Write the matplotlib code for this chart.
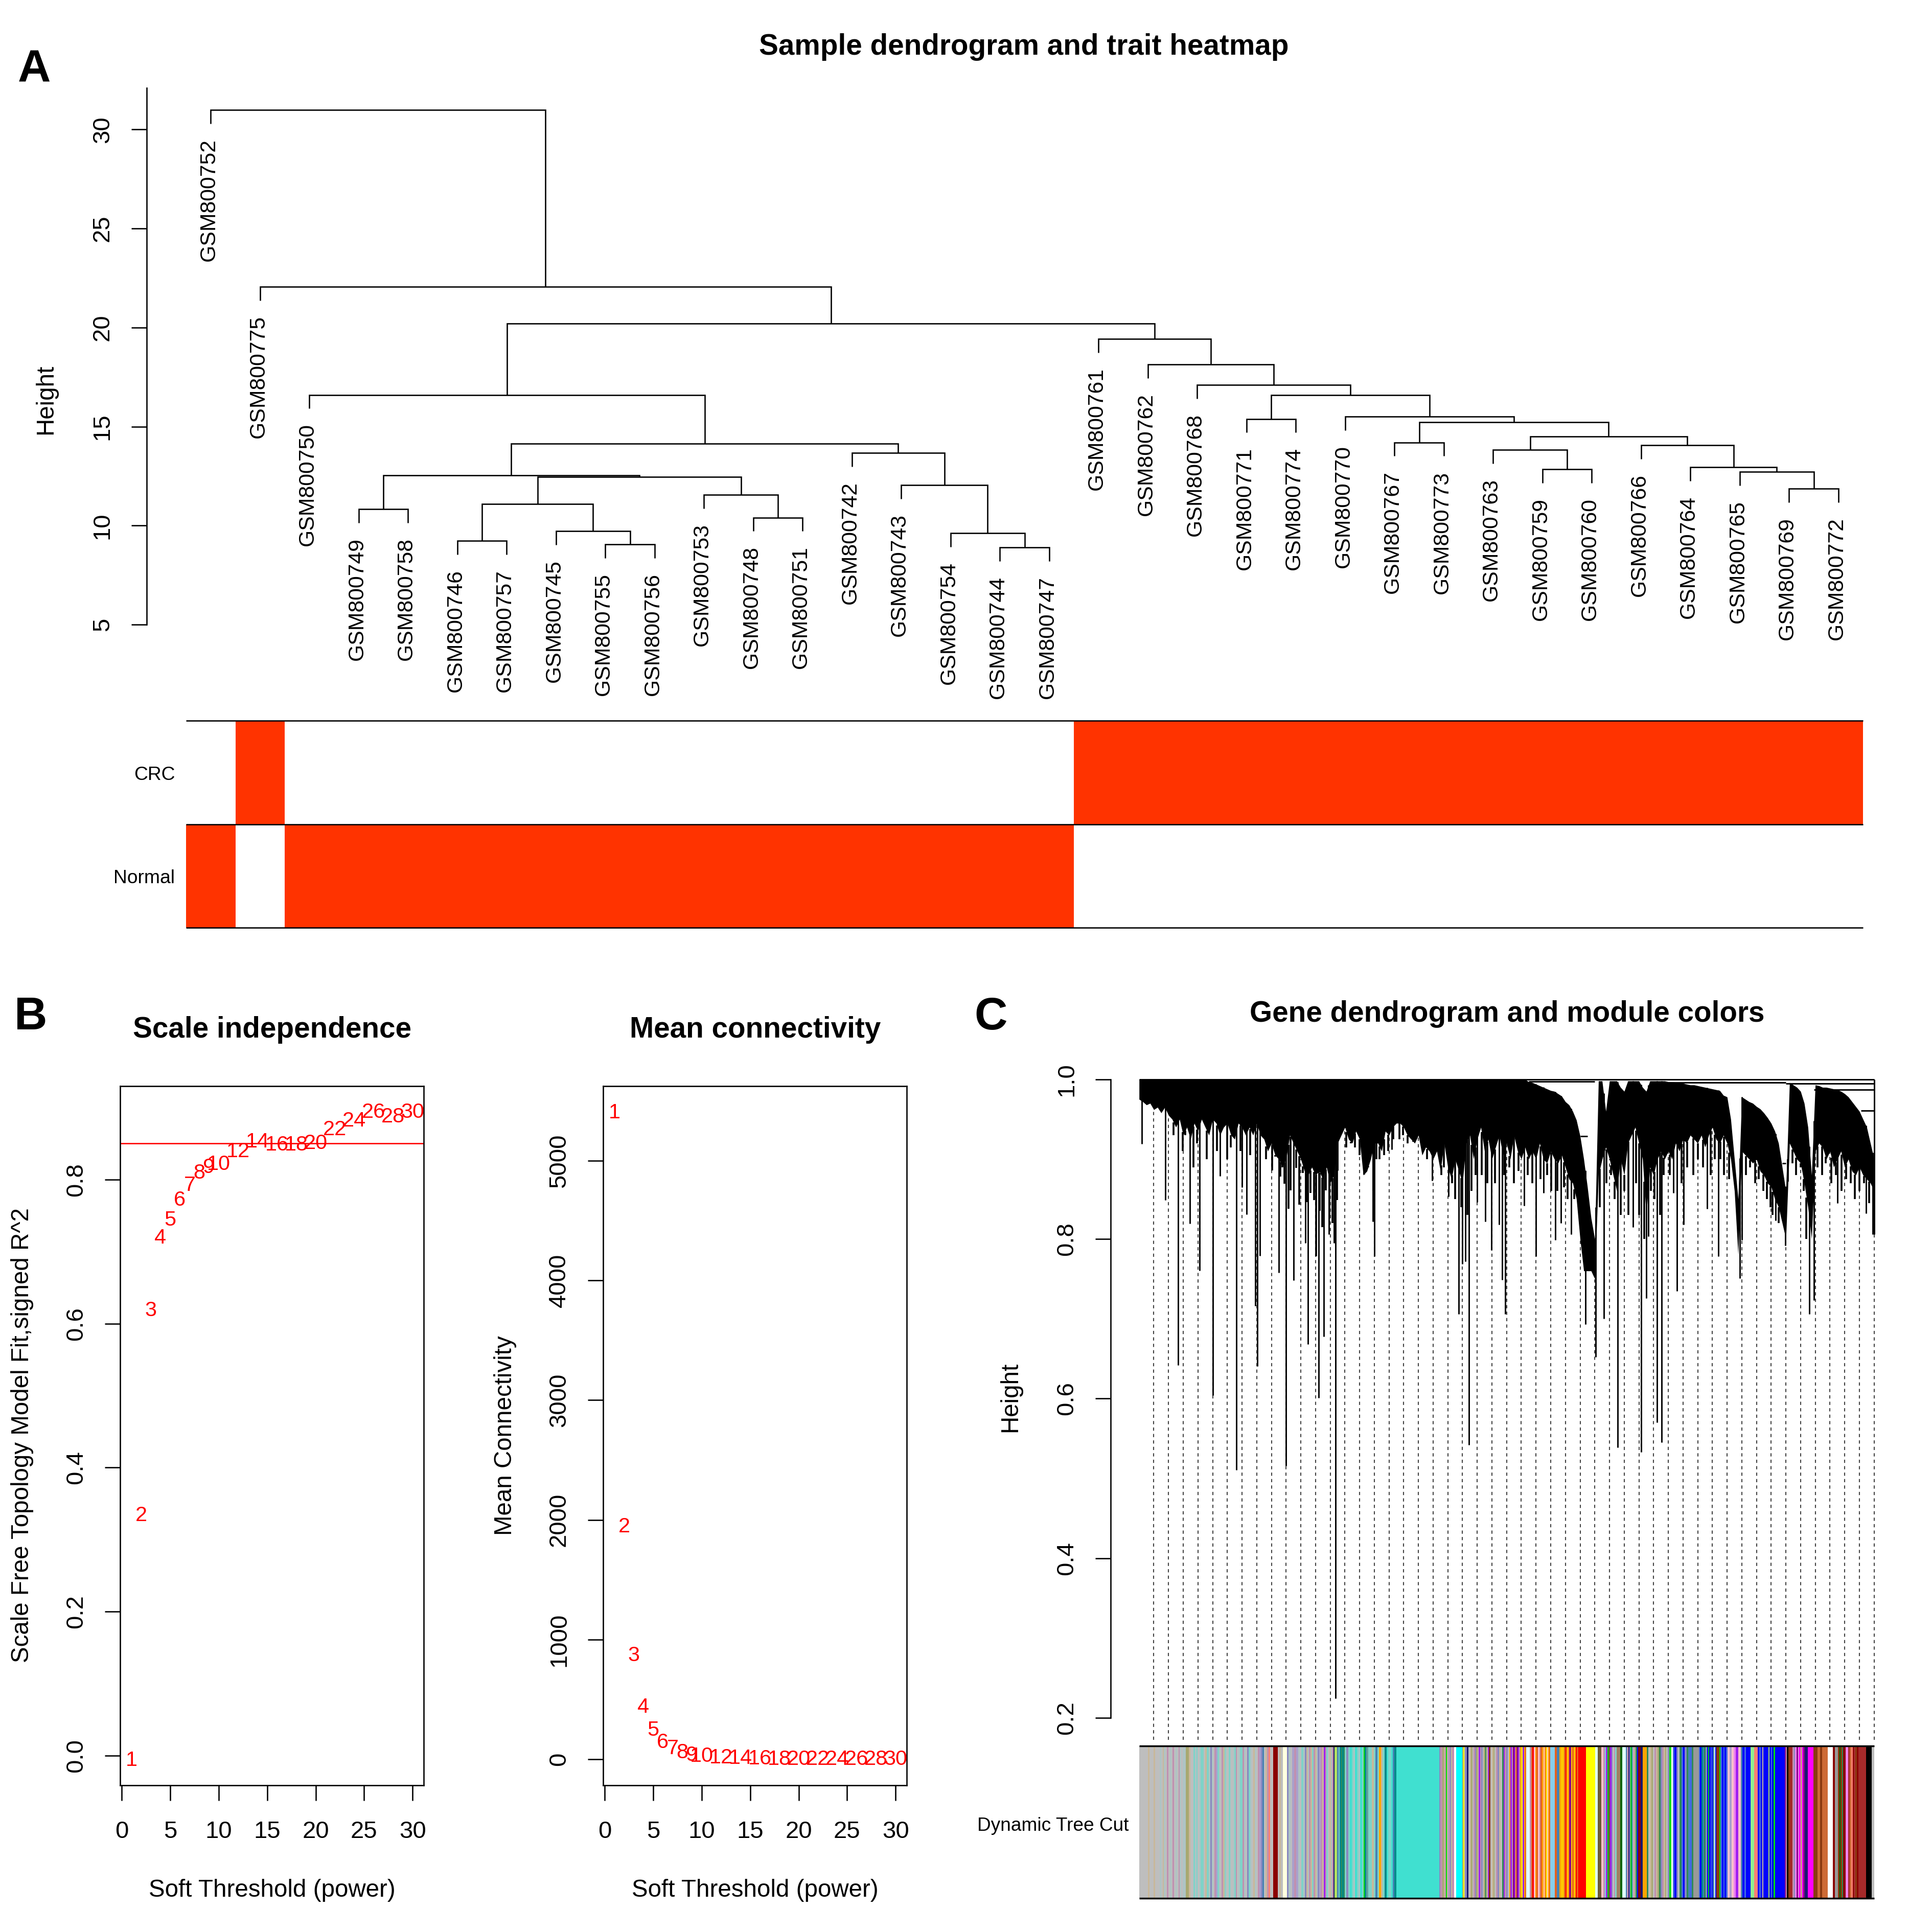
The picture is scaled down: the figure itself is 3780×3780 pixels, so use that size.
import numpy as np
import matplotlib
matplotlib.use('Agg')
import matplotlib.pyplot as plt
from matplotlib.colors import ListedColormap

plt.rcParams['font.family'] = ['Liberation Sans', 'DejaVu Sans']
plt.rcParams['ytick.alignment'] = 'center'

# Panel A: sample tree, hclust style merges (negative = leaf position, positive = earlier merge)
sample_labels = ['GSM800752', 'GSM800775', 'GSM800750', 'GSM800749', 'GSM800758', 'GSM800746',
                 'GSM800757', 'GSM800745', 'GSM800755', 'GSM800756', 'GSM800753', 'GSM800748',
                 'GSM800751', 'GSM800742', 'GSM800743', 'GSM800754', 'GSM800744', 'GSM800747',
                 'GSM800761', 'GSM800762', 'GSM800768', 'GSM800771', 'GSM800774', 'GSM800770',
                 'GSM800767', 'GSM800773', 'GSM800763', 'GSM800759', 'GSM800760', 'GSM800766',
                 'GSM800764', 'GSM800765', 'GSM800769', 'GSM800772']
merge_left = [-4, -6, -9, -8, 2, -12, -11, 5, 1, -17, -16, -15, -14, 9, -3,
              -33, -32, -31, -30, -28, -27, 21, -25, 23, -24, -22, 26, -21, -20, -19, 15, -2, -1]
merge_right = [-5, -7, -10, 3, 4, -13, 6, 7, 8, -18, 10, 11, 12, 13, 14,
               -34, 16, 17, 18, -29, 20, 19, -26, 22, 24, -23, 25, 27, 28, 29, 30, 31, 32]
merge_height = [10.84, 9.24, 9.05, 9.72, 11.1, 10.41, 11.55, 12.46, 12.53, 8.9, 9.62, 12.05, 13.67, 14.13, 16.6,
                11.87, 12.72, 12.94, 14.05, 12.84, 13.82, 14.5, 14.2, 15.21, 15.5, 15.39, 16.6, 17.1, 18.14,
                19.42, 20.2, 22.06, 30.98]
trait_crc = [0, 1, 0, 0, 0, 0, 0, 0, 0, 0, 0, 0, 0, 0, 0, 0, 0, 0,
             1, 1, 1, 1, 1, 1, 1, 1, 1, 1, 1, 1, 1, 1, 1, 1]
trait_normal = [1, 0, 1, 1, 1, 1, 1, 1, 1, 1, 1, 1, 1, 1, 1, 1, 1, 1,
                0, 0, 0, 0, 0, 0, 0, 0, 0, 0, 0, 0, 0, 0, 0, 0]

# Panel B: soft threshold curves
powers = [1, 2, 3, 4, 5, 6, 7, 8, 9, 10, 12, 14, 16, 18, 20, 22, 24, 26, 28, 30]
fit_r2 = [-0.006, 0.334, 0.618, 0.719, 0.744, 0.771, 0.792, 0.809, 0.817, 0.821,
          0.839, 0.852, 0.848, 0.848, 0.85, 0.869, 0.881, 0.893, 0.887, 0.893]
mean_conn = [5400, 1944, 868, 438, 243, 144, 90, 58, 36, 27,
             14, 8, 5, 3, 2, 1, 1, 0.5, 0.4, 0.3]
r2_cutoff = 0.85

# Panel C: gene tree read as envelope per 0.5 % of width, plus the long single branches
mass_low = [.975, .972, .968, .97, .962, .965, .958, .965, .955, .95,
            .94, .95, .93, .94, .925, .945, .935, .95, .94, .93,
            .95, .945, .93, .94, .945, .93, .925, .945, .94, .93,
            .94, .93, .945, .93, .925, .91, .92, .905, .90, .89,
            .90, .93, .92, .91, .90, .885, .88, .89, .88, .885,
            .875, .89, .87, .88, .92, .93, .94, .925, .92, .935,
            .925, .88, .885, .90, .92, .92, .91, .935, .93, .94,
            .945, .945, .94, .93, .925, .92, .93, .905, .915, .91,
            .90, .91, .885, .92, .89, .875, .90, .885, .87, .92,
            .93, .90, .925, .94, .91, .925, .90, .915, .93, .905,
            .92, .90, .93, .91, .90, .915, .90, .91, .90, .92,
            .90, .895, .91, .90, .895, .905, .89, .875, .87, .85,
            .80, .76, .76, .76, .75, .88, .90, .915, .90, .88,
            .86, .90, .88, .92, .93, .94, .92, .90, .83, .89,
            .88, .90, .91, .90, .91, .90, .92, .91, .925, .92,
            .93, .925, .92, .93, .915, .93, .94, .925, .92, .93,
            .92, .90, .86, .78, .91, .905, .90, .895, .90, .885,
            .88, .87, .865, .85, .84, .82, .80, .92, .91, .90,
            .895, .87, .84, .80, .91, .92, .915, .90, .91, .89,
            .90, .91, .89, .90, .885, .88, .89, .88, .875, .87,
            .86]
mass_top = [1.0] * 106 + [
    .997, .996, .994, .992, .99, .988, .986, .985, .982, .979,
    .972, .968, .96, .949, .929, .90, .865, .826, .80, .998,
    .998, .96, .998, .998, .998, .99, .985, .998, .998, .998,
    .998, .99, .985, .998, .998, .998, .998, .998, .997, .997,
    .996, .996, .995, .994, .993, .993, .992, .991, .99, .989,
    .988, .987, .986, .98, .978, .95, .90, .85, .978, .975,
    .972, .97, .966, .963, .958, .952, .945, .935, .92, .89,
    .86, .996, .993, .99, .985, .97, .94, .88, .993, .992,
    .99, .99, .989, .988, .987, .985, .982, .978, .972, .966,
    .96, .95, .94, .92, .90]
spike_x = [0.4, 3.6, 5.3, 6.9, 8.25, 10, 11, 13.2, 14, 14.6, 15.8, 16.1, 16.4, 19, 20, 21, 22.6, 23, 24.4,
           25.1, 25.8, 26.5, 26.7, 27, 31.8, 32, 34.4, 39.9, 42.1, 43.5, 44, 44.4, 44.9, 46, 47.1, 47.9,
           49, 49.4, 49.8, 52.4, 54, 55, 56.6, 57.4, 58.8, 60.7, 62.1, 63.2, 65.1, 67.2, 68.3, 69, 69.3,
           70.5, 71.1, 72.7, 73.2, 74.1, 77.3, 78.8, 81.7, 82, 86.6, 87.9, 91.2, 91.8, 95, 98.9, 99.8]
spike_low = [.919, .849, .642, .819, .7605, .604, .879, .5105, .865, .8305, .716, .6405, .779, .758, .516, .748,
             .795, .668, .601, .678, .806, .795, .2246, .886, .822, .778, .912, .873, .853, .706, .769, .772,
             .542, .846, .822, .786, .818, .749, .706, .842, .778, .858, .799, .82, .806, .693, .652, .7005,
             .539, .815, .533, .726, .803, .57, .545, .858, .735, .818, .838, .778, .7505, .799, .823, .792,
             .706, .723, .845, .832, .806]
# shorter teeth hanging from the dense part
teeth_x = [4.7, 5.9, 6.3, 7.4, 7.9, 9.2, 10.6, 12, 12.5, 13.8, 15.1, 17.3,
           18.1, 18.5, 19.2, 19.5, 19.8, 20.3, 20.6, 21.4, 21.8, 22.3, 22.8, 23.3, 23.8, 24.1, 24.6, 24.9,
           25.4, 25.9, 26.3, 26.9, 28.2, 28.8, 29.4, 30, 30.6, 31.2,
           31.9, 32.3, 32.7, 33.3, 33.9, 34.6, 35.4, 35.9, 36.5, 37.3, 38.4, 39.2,
           41.1, 41.5, 42.6, 43, 43.8, 44.7, 45.2, 45.8, 46.6, 47.4,
           48.4, 49.7, 50.4, 51, 51.6, 52.9, 53.5, 54.6, 55.5, 56.1, 56.9, 57.8, 58.3, 59.2,
           62.7, 63.6, 64.2, 64.7, 65.5, 66, 66.6, 67.6, 68, 68.7, 69.6, 70.1, 70.9, 71.4,
           72.2, 73.8, 74.6, 75.4, 76, 76.7, 77.8, 78.3, 79.1, 79.6, 80.3,
           82.6, 83.1, 83.8, 84.3, 84.9, 85.4, 85.9, 86.2, 87,
           88.3, 88.9, 89.4, 90, 90.4, 90.8, 92.3, 92.9, 93.4, 94.2, 94.8, 95.6, 96.2, 96.8, 97.4, 98, 98.6, 99.3]
teeth_low = [.93, .91, .93, .89, .92, .90, .91, .90, .915, .91, .905, .90,
             .886, .903, .878, .895, .869, .838, .861, .889, .843, .883, .846, .858, .849, .778, .835, .815,
             .861, .826, .82, .849, .915, .92, .915, .905, .91, .89,
             .86, .90, .90, .905, .91, .925, .925, .93, .92, .925, .91, .90,
             .88, .89, .87, .85, .84, .83, .86, .88, .88, .87,
             .87, .88, .89, .87, .885, .88, .87, .875, .88, .86, .86, .865, .85, .85,
             .84, .87, .88, .85, .83, .86, .83, .87, .83, .80, .86, .85, .83, .88,
             .88, .87, .89, .88, .90, .89, .88, .90, .90, .88, .875,
             .88, .89, .87, .875, .86, .85, .84, .83, .82,
             .90, .895, .88, .89, .86, .80, .89, .88, .895, .87, .88, .86, .875, .87, .85, .86, .87, .845]
top_merge_start = [0, 53, 71, 88, 91.8, 98.2, 60, 87.5]
top_merge_end = [100, 62, 88, 100, 100, 100, 61, 88]
top_merge_h = [1.0, .997, .996, .995, .987, .961, .929, .895]

# module colour bar: stop (% of width) and the stripes read inside each stretch
module_colors = {
    'g': '#BEBEBE', 'a': '#AEC4C4', 't': '#40E0D0', 'q': '#7FD3C8', 'n': '#C8B89A', 'p': '#C090B0',
    's': '#8888C0', 'v': '#A9A0CC', 'x': '#8B0000', 'c': '#FFFFE0', 'w': '#FFFFFF', 'f': '#B0E060',
    'h': '#2E8B57', 'T': '#008B8B', 'e': '#5F9EA0', 'u': '#A020F0', 'G': '#00E000', 'o': '#FFA500',
    'O': '#E8601C', 'y': '#FFFF00', 'Y': '#FFC800', 'r': '#FF0000', 'R': '#4169E1', 'b': '#0000FF',
    'm': '#FF00FF', 'M': '#191970', 'S': '#87CEEB', 'd': '#006400', 'l': '#6B5B35', 'L': '#FA8072',
    'P': '#FFC0CB', 'V': '#EE82EE', 'B': '#A52A2A', 'E': '#8B3A10', 'C': '#CD6A35', 'k': '#000000',
    'i': '#8B008B', 'I': '#E0FFFF', 'A': '#00FFFF', 'D': '#999999', 'z': '#A8A870', 'j': '#4682B4',
    'J': '#90EE90', 'K': '#A08060',
}
bar_stops = [2.6, 6.33, 7.37, 9.0, 9.69, 14.67, 18.26, 18.85, 19.54, 20.12, 20.82, 21.63, 22.55, 25.1, 25.3,
             26.45, 26.6, 26.96, 28.35, 28.47, 30.55, 30.67, 34.14, 34.5, 35, 40.87, 42.84, 43.14, 44, 44.34,
             44.81, 47.59, 50.37, 52.69, 53.15, 55.01, 55.93, 56.56, 56.86, 57.16, 58.02, 58.13, 58.48, 58.78,
             59.73, 60.79, 62.07, 62.42, 62.89, 63.16, 64.98, 65.49, 65.71, 66.25, 67.87, 68.21, 68.5, 69.1,
             72.16, 72.39, 72.63, 75.4, 76.15, 77.26, 78.54, 78.93, 80.05, 81.16, 81.55, 81.9, 83.17, 83.7,
             84.17, 84.8, 84.95, 85.6, 85.77, 86.3, 86.53, 87.83, 88.16, 89.08, 90.01, 90.12, 90.54, 91, 91.74,
             92.32, 92.95, 93.72, 94.41, 94.69, 95.11, 95.8, 96.11, 96.45, 97.08, 97.84, 98.88, 99.7, 100]
bar_codes = ['ggggggngggngg', 'gagnagpgagpgagpagaa', 'zzngg', 'qaqgaqqg', 'nqa',
             'sagpvqagpnqagqagaqpgaqqpag', 'sqagnagpvsjgnpLgg', 'x', 'gng', 'c', 'sag', 'vpv', 'agqa',
             'snapnqpnasvpn', 'u', 'pqgnap', 'M', 'f', 'jqThThqs', 's', 'qtqatqatq', 'G',
             'TeqqnqjqonqTtq', 'qt', 'jT', 't', 'sppznpGnvpsnpp', 'w', 'A', 'zyn', 'sM',
             'gnzgpsznupsgzhnu', 'Egnzgpsnghupsg', 'oupiuoiupoyuoO', 'I', 'pOrPoOPpOo', 'PoOyPoO', 'S', 'O', 'j',
             'oYYO', 'r', 'Yo', 'i', 'YOYorO', 'r', 'y', 'I', 'l', 'P', 'pSuGlusgpq', 'K', 'd', 'I',
             'jpMsGTgpnhb', 'x', 'M', 'o', 'hgnzgpnzhspnzgs', 'G', 'w', 'RbsghRbshjRh', 'D', 'RbTjhs',
             'bGbRbjIb', 'E', 'GRbRbR', 'PvPV', 'u', 'P', 'jbRbbb', 'J', 'L', 'bRb', 'n', 'b', 'f', 'bRb', 'G',
             'b', 'ip', 'kEBBp', 'sViVm', 'f', 'mi', 'M', 'm', 'E', 'CE', 'C', 'w', 'x', 'D', 'EdEh', 'x', 'V',
             'BCL', 'xBEx', 'B', 'k', 'g']

FIG_DPI = 378
HEAT_COLOR = '#FF3300'
LINE_W = 0.5
AXIS_SIZE = 9.05
TITLE_SIZE = 10.8
SCALE = 1568.0  # layout below is given on a 1568 px wide sheet

fig = plt.figure(figsize=(10, 10), dpi=FIG_DPI)


def add_box(left, top, right, bottom):
    return fig.add_axes([left / SCALE, 1 - bottom / SCALE, (right - left) / SCALE, (bottom - top) / SCALE])


def sheet_text(x, y, text, nudge=2, **kwargs):
    # Liberation sits a little high against its box, push it towards the baseline side
    kwargs.setdefault('ha', 'center')
    kwargs.setdefault('va', 'center')
    if kwargs.get('rotation') == 90:
        x += nudge
    else:
        y += nudge
    fig.text(x / SCALE, 1 - y / SCALE, text, **kwargs)


def style_r_axis(ax, offset=None):
    ax.tick_params(axis='both', length=5.7, width=LINE_W, labelsize=9, pad=6.5)
    ax.tick_params(axis='y', labelrotation=90)
    for spine in ax.spines.values():
        spine.set_linewidth(LINE_W)
    if offset is not None:
        ax.spines['left'].set_position(('outward', offset))
        for side in ['top', 'right', 'bottom']:
            ax.spines[side].set_visible(False)
        ax.set_xticks([])


# ---- Panel A
ax_tree = add_box(151, 70, 1512, 507)
ax_tree.set_xlim(-0.5, 33.5)
ax_tree.set_ylim(5, 32.18)
ax_tree.patch.set_visible(False)
ax_tree.set_yticks([5, 10, 15, 20, 25, 30])
style_r_axis(ax_tree, offset=14.7)
ax_tree.spines['left'].set_bounds(5, 32.1)

hang = 0.69
label_gap = 0.75
merged = {}
for i, (a, b, h) in enumerate(zip(merge_left, merge_right, merge_height), start=1):
    ends = []
    for node in (a, b):
        if node < 0:
            x_leaf = -node - 1
            ends.append((x_leaf, h - hang))
            ax_tree.text(x_leaf - 0.03, h - hang - label_gap, sample_labels[x_leaf], rotation=90,
                         ha='center', va='top', fontsize=8.15, clip_on=False)
        else:
            ends.append(merged[node])
    ax_tree.plot([ends[0][0], ends[0][0], ends[1][0], ends[1][0]], [ends[0][1], h, h, ends[1][1]],
                 color='k', lw=LINE_W, solid_joinstyle='miter', solid_capstyle='butt')
    merged[i] = ((ends[0][0] + ends[1][0]) / 2, h)

ax_heat = add_box(151, 585, 1512, 753)
ax_heat.pcolormesh(np.arange(35), [0, 1, 2], np.array([trait_crc, trait_normal]),
                   cmap=ListedColormap(['white', HEAT_COLOR]), vmin=0, vmax=1, antialiased=False)
ax_heat.set_ylim(2, 0)
ax_heat.hlines([0, 1, 2], 0, 34, color='k', lw=LINE_W, clip_on=False)
ax_heat.axis('off')

sheet_text(142, 627, 'CRC', ha='right', fontsize=7.1)
sheet_text(142, 711, 'Normal', ha='right', fontsize=7.1)
sheet_text(35, 324, 'Height', rotation=90, fontsize=AXIS_SIZE)
sheet_text(831, 36, 'Sample dendrogram and trait heatmap', fontsize=TITLE_SIZE, fontweight='bold')

# ---- Panel B
for left, right, y_values, ticks, ylim, fmt in [
        (97.5, 344, fit_r2, [0, 0.2, 0.4, 0.6, 0.8], (-0.041, 0.9295), '%.1f'),
        (489.5, 736, mean_conn, [0, 1000, 2000, 3000, 4000, 5000], (-217, 5622), '%d')]:
    ax = add_box(left, 881.5, right, 1449)
    ax.set_xlim(-0.16, 31.16)
    ax.set_ylim(*ylim)
    ax.set_xticks([0, 5, 10, 15, 20, 25, 30])
    ax.set_yticks(ticks)
    ax.set_yticklabels([fmt % t for t in ticks])
    style_r_axis(ax)
    ax.tick_params(axis='x', pad=7.5)
    for p, v in zip(powers, y_values):
        ax.text(p, v, str(p), color='red', ha='center', va='center', fontsize=7.9)
    if ticks[-1] < 1:
        ax.axhline(r2_cutoff, color='red', lw=LINE_W)

for x_mid, title in [(221, 'Scale independence'), (613, 'Mean connectivity')]:
    sheet_text(x_mid, 834, title, fontsize=TITLE_SIZE, fontweight='bold')
    sheet_text(x_mid, 1532, 'Soft Threshold (power)', fontsize=AXIS_SIZE)
sheet_text(16, 1165, 'Scale Free Topology Model Fit,signed R^2', rotation=90, fontsize=AXIS_SIZE)
sheet_text(408, 1165, 'Mean Connectivity', rotation=90, fontsize=AXIS_SIZE)

# ---- Panel C
ax_gene = add_box(924.5, 876, 1521, 1412)
ax_gene.set_xlim(0, 100)
ax_gene.set_ylim(0.1726, 1.0)
ax_gene.patch.set_visible(False)
ax_gene.set_yticks([0.2, 0.4, 0.6, 0.8, 1.0])
ax_gene.set_yticklabels(['0.2', '0.4', '0.6', '0.8', '1.0'])
style_r_axis(ax_gene, offset=10.6)
ax_gene.spines['left'].set_bounds(0.2, 1.0)

mass_x = np.arange(len(mass_low)) / 2
guide_x = np.arange(2, 101, 2)
ax_gene.vlines(guide_x, 0.1726, np.interp(guide_x, mass_x, mass_low), color='#444444', lw=0.4,
               linestyles=(0, (3, 3)), zorder=1, clip_on=False)
ax_gene.fill_between(mass_x, mass_low, mass_top, color='k', lw=0, zorder=2)
ax_gene.vlines(spike_x, spike_low, np.interp(spike_x, mass_x, mass_top), color='k', lw=0.55, zorder=3)
ax_gene.vlines(teeth_x, teeth_low, np.interp(teeth_x, mass_x, mass_low), color='k', lw=0.7, zorder=3)
ax_gene.hlines(top_merge_h, top_merge_start, top_merge_end, color='k', lw=0.55, zorder=3, clip_on=False)
ax_gene.vlines(100, 0.806, 1.0, color='k', lw=0.55, zorder=3, clip_on=False)

ax_bar = add_box(924.5, 1417, 1521, 1540.6)
stripe_left, stripe_width, stripe_color = [], [], []
start = 0.0
for stop, codes in zip(bar_stops, bar_codes):
    step = (stop - start) / len(codes)
    for k, code in enumerate(codes):
        stripe_left.append(start + k * step)
        stripe_width.append(step)
        stripe_color.append(module_colors[code])
    start = stop
ax_bar.bar(stripe_left, 1, width=stripe_width, align='edge', color=stripe_color, lw=0, antialiased=False)
ax_bar.set_xlim(0, 100)
ax_bar.set_ylim(0, 1)
ax_bar.hlines([0, 1], 0, 100, color='k', lw=0.65, clip_on=False)
ax_bar.axis('off')

sheet_text(916, 1480, 'Dynamic Tree Cut', ha='right', fontsize=7.05)
sheet_text(818, 1134, 'Height', rotation=90, fontsize=AXIS_SIZE)
sheet_text(1223, 821, 'Gene dendrogram and module colors', fontsize=TITLE_SIZE, fontweight='bold')

# panel letters
sheet_text(28, 54, 'A', nudge=3, fontsize=17, fontweight='bold')
sheet_text(25, 823, 'B', nudge=3, fontsize=17, fontweight='bold')
sheet_text(804, 823, 'C', nudge=3, fontsize=17, fontweight='bold')

fig.savefig('out.png', dpi=FIG_DPI)
